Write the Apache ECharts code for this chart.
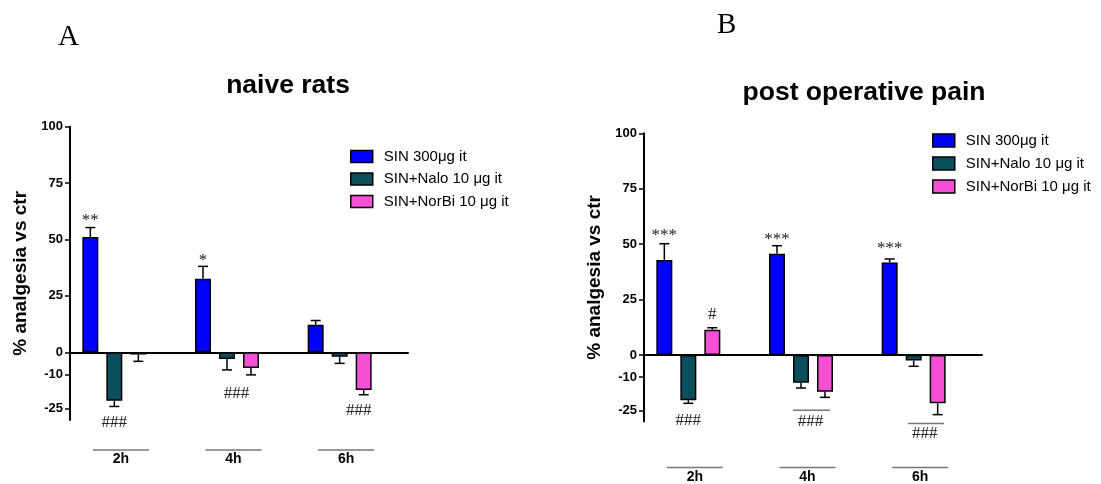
<!DOCTYPE html>
<html>
<head>
<meta charset="utf-8">
<script src="https://cdn.jsdelivr.net/npm/echarts@6/dist/echarts.min.js"></script>
<style>
  html, body { margin: 0; padding: 0; background: #fff; }
  #chart { width: 1101px; height: 484px; }
</style>
</head>
<body>
<div id="chart"></div>
<script>
// data
const categories = ['2h', '4h', '6h']
const seriesNames = ['SIN 300μg it', 'SIN+Nalo 10 μg it', 'SIN+NorBi 10 μg it']
const yTicks = [100, 75, 50, 25, 0, -10, -25]

// A - naive rats
const naiveSin = [51.1, 32.6, 12.2]
const naiveSinErr = [4.2, 5.5, 1.9]
const naiveNalo = [-21.5, -3, -2]
const naiveNaloErr = [2.5, 4.8, 2.9]
const naiveNorbi = [-1, -7, -16.7]
const naiveNorbiErr = [3, 3, 2.1]

// B - post operative pain
const postSin = [42.9, 45.7, 41.7]
const postSinErr = [7.3, 3.6, 1.6]
const postNalo = [-20.4, -12.5, -2.5]
const postNaloErr = [1.4, 2.4, 2.6]
const postNorbi = [11.4, -16.6, -21.8]
const postNorbiErr = [0.9, 2.5, 5.1]

// significance marks: category, bar slot, y value, text, optional line [slotFrom, slotTo, y]
const naiveNotes = [
  { cat: 0, slot: 0, y: 58.5, text: '**' },
  { cat: 1, slot: 0, y: 40.5, text: '*' },
  { cat: 0, slot: 1, y: -31.1, text: '###' },
  { cat: 1, slot: 1.4, y: -18.2, text: '###' },
  { cat: 2, slot: 1.8, y: -25.9, text: '###' }
]
const postNotes = [
  { cat: 0, slot: 0, y: 53.7, text: '***' },
  { cat: 1, slot: 0, y: 52.3, text: '***' },
  { cat: 2, slot: 0, y: 47.8, text: '***' },
  { cat: 0, slot: 2, y: 18.2, text: '#' },
  { cat: 0, slot: 1, y: -29.4, text: '###' },
  { cat: 1, slot: 1.4, y: -29.8, text: '###', line: [0.67, 2.2, -24.9] },
  { cat: 2, slot: 1.46, y: -35.5, text: '###', line: [0.76, 2.26, -30.9] }
]

const colors = ['#0000ff', '#0b4f5e', '#f54fd6']
const BAR_W = 16
const STEP = 24 // bar width + gap

const slotX = (api, cat, slot) => api.coord([cat, 0])[0] + (slot - 1.5) * STEP

function errorSeries(xIdx, yIdx, groups) {
  const items = []
  groups.forEach((g, slot) => {
    g.vals.forEach((v, cat) => items.push([cat, v, g.errs[cat], slot]))
  })
  return {
    type: 'custom',
    xAxisIndex: xIdx,
    yAxisIndex: yIdx,
    silent: true,
    z: 3,
    data: items,
    renderItem(params, api) {
      const cat = api.value(0)
      const v = api.value(1)
      const e = api.value(2)
      const x = slotX(api, cat, api.value(3))
      const y0 = api.coord([cat, v])[1]
      const y1 = api.coord([cat, v >= 0 ? v + e : v - e])[1]
      const st = { stroke: '#000', lineWidth: 1.5 }
      return {
        type: 'group',
        children: [
          { type: 'line', shape: { x1: x, y1: y0, x2: x, y2: y1 }, style: st },
          { type: 'line', shape: { x1: x - 5, y1: y1, x2: x + 5, y2: y1 }, style: st }
        ]
      }
    }
  }
}

function noteSeries(xIdx, yIdx, notes) {
  return {
    type: 'custom',
    xAxisIndex: xIdx,
    yAxisIndex: yIdx,
    silent: true,
    z: 4,
    data: notes.map(n => [n.cat, n.y]),
    renderItem(params, api) {
      const n = notes[params.dataIndex]
      const x = slotX(api, n.cat, n.slot)
      const y = api.coord([n.cat, n.y])[1]
      const children = [{
        type: 'text',
        style: {
          x: x, y: y, text: n.text, fill: '#222',
          font: '17px "Liberation Serif"', align: 'center', verticalAlign: 'middle'
        }
      }]
      if (n.line) {
        const ly = api.coord([n.cat, n.line[2]])[1]
        children.push({
          type: 'line',
          shape: { x1: slotX(api, n.cat, n.line[0]), y1: ly, x2: slotX(api, n.cat, n.line[1]), y2: ly },
          style: { stroke: '#777', lineWidth: 1.5 }
        })
      }
      return { type: 'group', children }
    }
  }
}

function barSeries(xIdx, yIdx, lists) {
  const out = lists.map((d, i) => ({
    name: seriesNames[i],
    type: 'bar',
    xAxisIndex: xIdx,
    yAxisIndex: yIdx,
    barWidth: BAR_W,
    barGap: '50%',
    data: d,
    itemStyle: { color: colors[i], borderColor: '#000', borderWidth: 1.5 },
    emphasis: { disabled: true }
  }))
  // empty slot so the visible bars sit left of the band centre
  out.push({
    type: 'bar', xAxisIndex: xIdx, yAxisIndex: yIdx, barWidth: BAR_W, barGap: '50%',
    data: [0, 0, 0], itemStyle: { color: 'transparent', borderWidth: 0 }, silent: true
  })
  return out
}

function yAxis(gridIndex) {
  return {
    type: 'value',
    gridIndex,
    min: -30,
    max: 100,
    interval: 5,
    name: '% analgesia vs ctr',
    nameLocation: 'middle',
    nameGap: 40,
    nameTextStyle: { fontFamily: 'Liberation Sans', fontWeight: 'bold', fontSize: 19, color: '#000' },
    axisLine: { show: true, lineStyle: { color: '#000', width: 2 } },
    axisTick: { show: true, length: 5, lineStyle: { color: '#000', width: 1.5 }, customValues: yTicks },
    axisLabel: {
      margin: 7, customValues: yTicks,
      fontFamily: 'Liberation Sans', fontWeight: 'bold', fontSize: 13, color: '#000'
    },
    splitLine: { show: false }
  }
}

function xAxes(gridIndex, labelMargin) {
  return [
    {
      type: 'category', gridIndex, data: categories,
      axisLine: { onZero: true, lineStyle: { color: '#000', width: 2 } },
      axisTick: { show: false }, axisLabel: { show: false }
    },
    {
      type: 'category', gridIndex, data: categories, position: 'bottom',
      axisLine: { show: false, onZero: false }, axisTick: { show: false },
      axisLabel: {
        margin: labelMargin,
        padding: [0, 11, 0, 0],
        formatter: v => '{l| }\n{t|' + v + '}',
        rich: {
          l: { width: 56, height: 1.5, lineHeight: 2, backgroundColor: '#777' },
          t: { fontFamily: 'Liberation Sans', fontWeight: 'bold', fontSize: 14, lineHeight: 17, color: '#000' }
        }
      }
    }
  ]
}

const legendText = { fontFamily: 'Liberation Sans', fontSize: 15, lineHeight: 14, color: '#000', padding: [0, 0, 0, 6] }

const chart = echarts.init(document.getElementById('chart'))
chart.setOption({
  animation: false,
  title: [
    { text: 'A', left: 53, top: 17, textStyle: { fontFamily: 'Liberation Serif', fontWeight: 'normal', fontSize: 29, lineHeight: 30, color: '#000' } },
    { text: 'B', left: 712, top: 5, textStyle: { fontFamily: 'Liberation Serif', fontWeight: 'normal', fontSize: 29, lineHeight: 30, color: '#000' } },
    { text: 'naive rats', left: 283, top: 67, textAlign: 'center', textStyle: { fontFamily: 'Liberation Sans', fontWeight: 'bold', fontSize: 26.5, lineHeight: 28, color: '#000' } },
    { text: 'post operative pain', left: 859, top: 74, textAlign: 'center', textStyle: { fontFamily: 'Liberation Sans', fontWeight: 'bold', fontSize: 26.5, lineHeight: 28, color: '#000' } }
  ],
  legend: [
    {
      data: seriesNames, left: 350, top: 149, orient: 'vertical', padding: 0,
      itemWidth: 22, itemHeight: 12, itemGap: 7.5, icon: 'rect', selectedMode: false,
      itemStyle: { borderColor: '#000', borderWidth: 1.5 }, textStyle: legendText
    },
    {
      data: seriesNames, left: 932, top: 133, orient: 'vertical', padding: 0,
      itemWidth: 22, itemHeight: 13, itemGap: 8, icon: 'rect', selectedMode: false,
      itemStyle: { borderColor: '#000', borderWidth: 1.5 }, textStyle: legendText
    }
  ],
  grid: [
    { left: 70, top: 126.7, width: 338, height: 293.3 },
    { left: 644, top: 133.3, width: 338, height: 290 }
  ],
  xAxis: [...xAxes(0, 29), ...xAxes(1, 45)],
  yAxis: [yAxis(0), yAxis(1)],
  series: [
    ...barSeries(0, 0, [naiveSin, naiveNalo, naiveNorbi]),
    errorSeries(0, 0, [
      { vals: naiveSin, errs: naiveSinErr },
      { vals: naiveNalo, errs: naiveNaloErr },
      { vals: naiveNorbi, errs: naiveNorbiErr }
    ]),
    noteSeries(0, 0, naiveNotes),
    ...barSeries(2, 1, [postSin, postNalo, postNorbi]),
    errorSeries(2, 1, [
      { vals: postSin, errs: postSinErr },
      { vals: postNalo, errs: postNaloErr },
      { vals: postNorbi, errs: postNorbiErr }
    ]),
    noteSeries(2, 1, postNotes)
  ]
})
</script>
</body>
</html>
